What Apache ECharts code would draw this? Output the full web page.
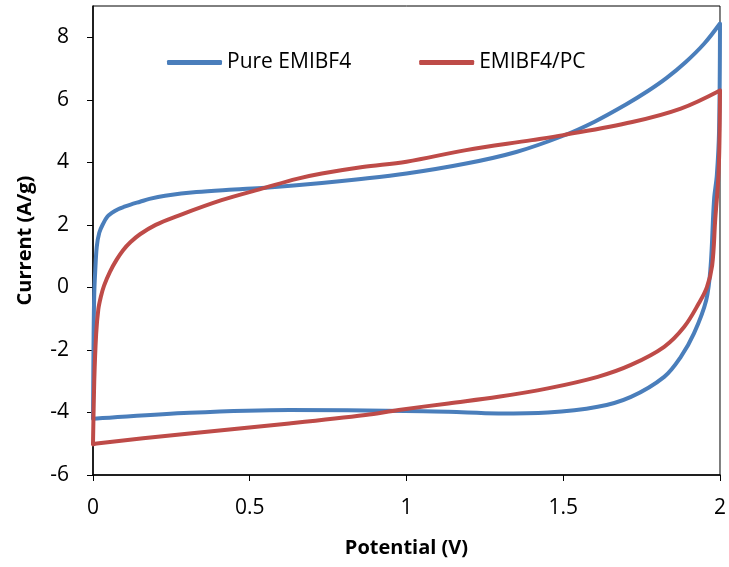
<!DOCTYPE html>
<html lang="en">
<head>
    <meta charset="UTF-8">
    <title>CV curves</title>
    <style>
        html, body { margin: 0; padding: 0; background: #fff; }
        #chart { width: 729px; height: 567px; }
    </style>
</head>
<body>
    <div id="chart"></div>
    <script src="https://cdn.jsdelivr.net/npm/echarts@6/dist/echarts.min.js"></script>
    <script>
        // [potential (V), current (A/g)], loop order
        var pureForward = [
            [0, -4.2], [0.002, -1.5], [0.004, -0.2], [0.007, 0.5], [0.012, 1.3], [0.02, 1.75],
            [0.033, 2.05], [0.045, 2.25], [0.06, 2.38], [0.08, 2.5], [0.1, 2.58], [0.12, 2.65],
            [0.15, 2.74], [0.18, 2.83], [0.23, 2.93], [0.33, 3.05],
            [0.45, 3.13], [0.55, 3.19], [0.73, 3.34], [0.84, 3.45], [1.0, 3.64], [1.19, 3.96],
            [1.35, 4.33], [1.5, 4.85], [1.6, 5.3], [1.7, 5.85], [1.77, 6.28], [1.83, 6.7],
            [1.89, 7.2], [1.95, 7.8], [2.0, 8.44]
        ]
        var pureReverse = [
            [1.997, 5.0], [1.99, 3.6], [1.981, 2.8], [1.97, 0.66], [1.956, -0.41], [1.917, -1.47],
            [1.875, -2.22], [1.822, -2.86], [1.716, -3.5], [1.61, -3.82], [1.451, -4.0], [1.293, -4.03],
            [1.134, -3.98], [0.996, -3.95], [0.626, -3.92], [0.308, -4.01], [0.012, -4.19], [0, -4.2]
        ]
        var pcForward = [
            [0, -5.0], [0.004, -3.0], [0.01, -1.5], [0.017, -0.7], [0.025, -0.3], [0.035, 0.05],
            [0.054, 0.5], [0.075, 0.88], [0.096, 1.19], [0.12, 1.45], [0.15, 1.7], [0.2, 2.0],
            [0.26, 2.25], [0.41, 2.79], [0.55, 3.19], [0.65, 3.47], [0.73, 3.64],
            [0.86, 3.85], [1.0, 4.02], [1.19, 4.39], [1.4, 4.71], [1.5, 4.87], [1.72, 5.29],
            [1.875, 5.72], [2.0, 6.3]
        ]
        var pcReverse = [
            [1.998, 4.5], [1.994, 3.4], [1.985, 2.2], [1.975, 0.7], [1.958, 0.0], [1.933, -0.5],
            [1.886, -1.26], [1.822, -1.9], [1.716, -2.48], [1.61, -2.86], [1.451, -3.23],
            [1.293, -3.5], [1.134, -3.71], [0.975, -3.92], [0.869, -4.08], [0.626, -4.35],
            [0.308, -4.67], [0.012, -4.99], [0, -5.02]
        ]
        var seriesNames = ['Pure EMIBF4', 'EMIBF4/PC']
        var yTicks = [-6, -4, -2, 0, 2, 4, 6, 8]

        var font = '"Open Sans", Lato, sans-serif'

        function newSeries(name, color, inpData) {
            return {
                name: name,
                type: 'line',
                showSymbol: false,
                smooth: 0.35,
                clip: false,
                lineStyle: { color: color, width: 4, cap: 'round', join: 'round' },
                itemStyle: { color: color },
                data: inpData
            }
        }

        var chart = echarts.init(document.getElementById('chart'))
        chart.setOption({
            animation: false,
            textStyle: { fontFamily: font },
            grid: {
                left: 93, top: 6, right: 6, bottom: 92,
                show: true, borderColor: '#000', borderWidth: 1
            },
            legend: {
                left: 162, top: 47,
                itemWidth: 55, itemHeight: 5, itemGap: 68,
                icon: 'roundRect',
                textStyle: { fontSize: 21, color: '#000', fontFamily: font },
                data: seriesNames
            },
            xAxis: {
                type: 'value', min: 0, max: 2, interval: 0.5,
                name: 'Potential (V)', nameLocation: 'middle', nameGap: 63,
                nameTextStyle: { fontSize: 20, fontWeight: 'bold', color: '#000', fontFamily: font },
                axisLine: { onZero: false, lineStyle: { color: '#000', width: 1.5 } },
                axisTick: { inside: false, length: 6, lineStyle: { color: '#000' } },
                axisLabel: { fontSize: 21, color: '#000', margin: 23 },
                splitLine: { show: false }
            },
            yAxis: {
                type: 'value', min: -6, max: 9, interval: 2,
                name: 'Current (A/g)', nameLocation: 'middle', nameGap: 58,
                nameTextStyle: { fontSize: 20, fontWeight: 'bold', color: '#000', fontFamily: font },
                axisLine: { show: true, onZero: false, lineStyle: { color: '#000', width: 1.5 } },
                axisTick: { show: true, inside: false, length: 6, customValues: yTicks, lineStyle: { color: '#000' } },
                axisLabel: { fontSize: 21, color: '#000', margin: 24, customValues: yTicks },
                splitLine: { show: false }
            },
            series: [
                newSeries(seriesNames[0], '#4A7EBB', pureForward.concat(pureReverse)),
                newSeries(seriesNames[1], '#BE4B48', pcForward.concat(pcReverse))
            ]
        })
    </script>
</body>
</html>
